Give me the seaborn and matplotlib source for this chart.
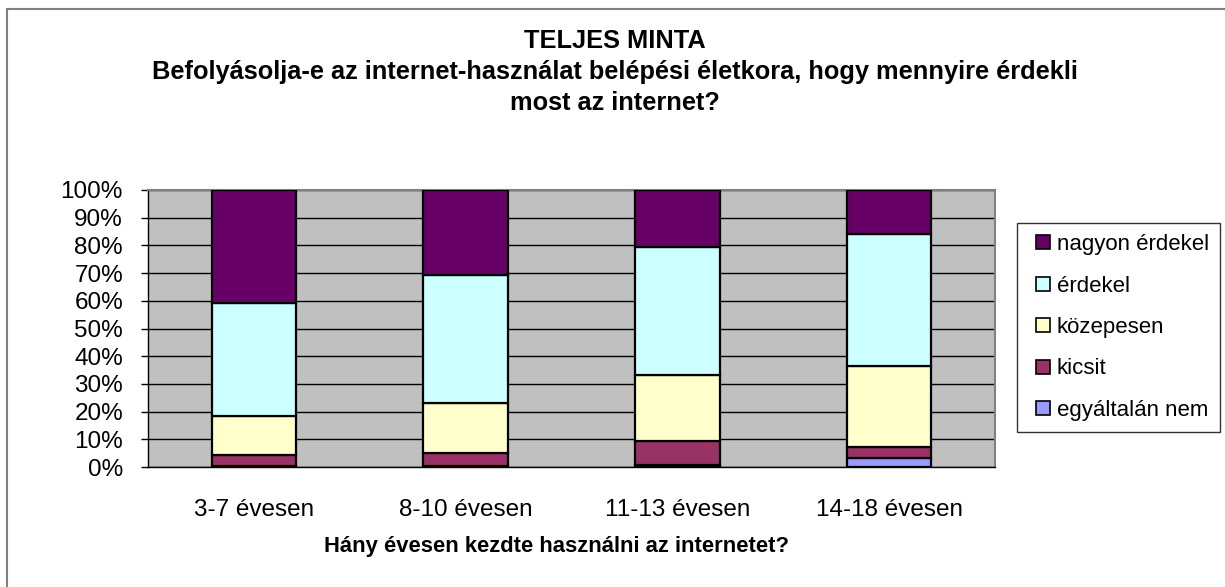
"""
Stacked 100% bar chart: interest in the internet by age of first use.
"""
import numpy as np
import pandas as pd
import matplotlib
matplotlib.use('Agg')
import matplotlib.pyplot as plt
import seaborn as sns
from matplotlib.patches import Patch, Rectangle
from matplotlib.legend_handler import HandlerPatch

# Data (percent)
categories = ['3-7 évesen', '8-10 évesen', '11-13 évesen', '14-18 évesen']
series_names = ['egyáltalán nem', 'kicsit', 'közepesen', 'érdekel', 'nagyon érdekel']
egyaltalan_nem = [0.3, 0.3, 0.8, 3.2]
kicsit = [3.9, 4.7, 8.6, 4.0]
kozepesen = [14.3, 18.2, 23.9, 29.2]
erdekel = [40.6, 46.1, 46.1, 47.6]
nagyon_erdekel = [40.9, 30.7, 20.6, 16.0]
y_ticks = [0, 10, 20, 30, 40, 50, 60, 70, 80, 90, 100]
y_tick_labels = ['0%', '10%', '20%', '30%', '40%', '50%', '60%', '70%', '80%', '90%', '100%']

colors = ['#9999FF', '#993366', '#FFFFCC', '#CCFFFF', '#660066']

sns.set_style('white')
plt.rcParams['font.family'] = ['Liberation Sans', 'DejaVu Sans']
plt.rcParams['text.color'] = 'black'
plt.rcParams['xtick.color'] = 'black'
plt.rcParams['ytick.color'] = 'black'
plt.rcParams['xtick.labelcolor'] = 'black'
plt.rcParams['ytick.labelcolor'] = 'black'

df = pd.DataFrame({
    'category': categories,
    'egyáltalán nem': egyaltalan_nem,
    'kicsit': kicsit,
    'közepesen': kozepesen,
    'érdekel': erdekel,
    'nagyon érdekel': nagyon_erdekel,
})

fig = plt.figure(figsize=(12.25, 5.87), dpi=100)
ax = fig.add_axes([148 / 1225, 120 / 587, 847 / 1225, 277 / 587])
ax.set_facecolor('#C0C0C0')

# Stacked bars
bottom = np.zeros(len(categories))
for name, color in zip(series_names, colors):
    sns.barplot(data=df, x='category', y=name, color=color, width=0.4,
                bottom=bottom, edgecolor='black', linewidth=1.6,
                saturation=1, ax=ax, zorder=3)
    bottom = bottom + df[name].values

ax.set_ylim(0, 100)
ax.set_xlim(-0.5, len(categories) - 0.5)
ax.set_yticks(y_ticks)
ax.set_yticklabels(y_tick_labels, fontsize=17.5)
ax.yaxis.grid(True, color='black', linewidth=1, zorder=0)
ax.set_axisbelow(True)

# Category ticks between bars, labels at the centres
ax.set_xticks(np.arange(len(categories) + 1) - 0.5)
ax.set_xticklabels([])
ax.set_xticks(np.arange(len(categories)), minor=True)
ax.set_xticklabels(categories, minor=True, fontsize=17.5)
ax.tick_params(axis='x', which='major', direction='out', length=5, width=1, color='black')
ax.tick_params(axis='x', which='minor', length=0, pad=23)
ax.tick_params(axis='y', direction='out', length=5, width=1, color='black', pad=13, left=True)
ax.set_xlabel('')
ax.set_ylabel('')

for side in ['left', 'bottom']:
    ax.spines[side].set_color('black')
    ax.spines[side].set_linewidth(1)
for side in ['top', 'right']:
    ax.spines[side].set_color('#808080')
    ax.spines[side].set_linewidth(1.5)

# Titles
fig.text(0.502, 1 - 29 / 587,
         'TELJES MINTA\nBefolyásolja-e az internet-használat belépési életkora, hogy mennyire érdekli\nmost az internet?',
         ha='center', va='top', fontsize=18.3, fontweight='bold', linespacing=1.37)
fig.text(557 / 1225, 1 - 552 / 587, 'Hány évesen kezdte használni az internetet?',
         ha='center', va='baseline', fontsize=15.8, fontweight='bold')


def small_square(legend, orig_handle, xdescent, ydescent, width, height, fontsize):
    s = 10
    return Rectangle((-xdescent + width - s, -ydescent + (height - s) / 2), s, s)


# Legend (top series first)
handles = [Patch(facecolor=c, edgecolor='black', linewidth=1.2) for c in colors[::-1]]
leg = fig.legend(handles, series_names[::-1], loc='upper left',
                 bbox_to_anchor=(1017 / 1225, 1 - 223 / 587),
                 frameon=True, fancybox=False, fontsize=16, labelcolor='black',
                 handler_map={Patch: HandlerPatch(patch_func=small_square)},
                 handlelength=1.0, handleheight=0.7, handletextpad=0.3,
                 labelspacing=0.92, borderpad=0.5, borderaxespad=0)
leg.get_frame().set_edgecolor('black')
leg.get_frame().set_linewidth(1)

# Outer chart border
fig.patches.append(Rectangle((7 / 1225, -0.1), 1.2, 1 - 9 / 587 + 0.1,
                             transform=fig.transFigure, fill=False,
                             edgecolor='#808080', linewidth=1.5))

fig.savefig('out.png', dpi=100)
plt.close(fig)
